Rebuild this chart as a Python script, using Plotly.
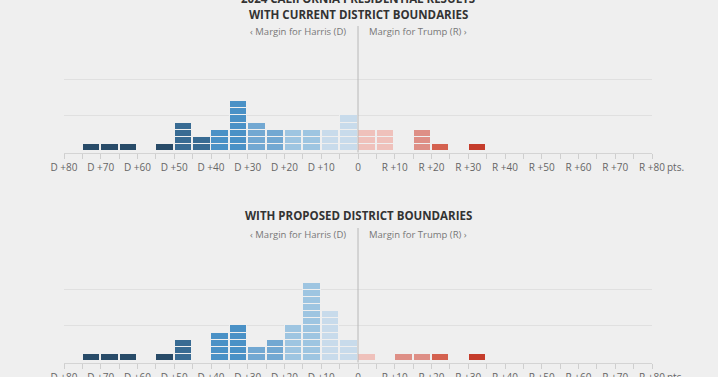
import plotly.graph_objects as go

# ---- data ----
bin_centers = [-77.5, -72.5, -67.5, -62.5, -57.5, -52.5, -47.5, -42.5, -37.5, -32.5,
               -27.5, -22.5, -17.5, -12.5, -7.5, -2.5, 2.5, 7.5, 12.5, 17.5,
               22.5, 27.5, 32.5, 37.5]
current_counts = [0, 1, 1, 1, 0, 1, 4, 2, 3, 7,
                  4, 3, 3, 3, 3, 5, 3, 3, 0, 3,
                  1, 0, 1, 0]
proposed_counts = [0, 1, 1, 1, 0, 1, 3, 0, 4, 5,
                   2, 3, 5, 11, 7, 3, 1, 0, 1, 1,
                   1, 0, 1, 0]
tick_vals = list(range(-80, 81, 5))
tick_labels = ["D +80", "", "D +70", "", "D +60", "", "D +50", "", "D +40", "", "D +30", "",
               "D +20", "", "D +10", "", "0", "", "R +10", "", "R +20", "", "R +30", "",
               "R +40", "", "R +50", "", "R +60", "", "R +70", "", "R +80"]
panel_titles = ["WITH CURRENT DISTRICT BOUNDARIES", "WITH PROPOSED DISTRICT BOUNDARIES"]
main_title = "2024 CALIFORNIA PRESIDENTIAL RESULTS"

BG = "#efefef"

def color_for(x):
    if x < -50: return "#284b68"
    if x < -40: return "#386b93"
    if x < -30: return "#4a91c6"
    if x < -20: return "#72a8d2"
    if x < -10: return "#9ec5e1"
    if x < 0:   return "#c8dbeb"
    if x < 10:  return "#efc1bb"
    if x < 20:  return "#de8f86"
    if x < 30:  return "#d4614f"
    return "#c53c2b"

fig = go.Figure()

for panel, counts in enumerate([current_counts, proposed_counts]):
    xa = "x" if panel == 0 else "x2"
    ya = "y" if panel == 0 else "y2"
    maxc = max(counts)
    for level in range(1, maxc + 1):
        xs = [c for c, n in zip(bin_centers, counts) if n >= level]
        fig.add_trace(go.Bar(
            x=xs, y=[1] * len(xs), width=4.75,
            marker=dict(color=[color_for(c) for c in xs], line=dict(color=BG, width=1.1)),
            xaxis=xa, yaxis=ya, showlegend=False, hoverinfo="skip"))

H = 377.0
def py(p):
    return 1 - p / H

xaxis_common = dict(range=[-80, 80], tickvals=tick_vals, ticktext=tick_labels,
                    showline=True, linecolor="#d4d4d4", linewidth=1,
                    ticks="outside", ticklen=5, tickcolor="#cfcfcf", tickwidth=1,
                    ticklabelstandoff=0, automargin=False,
                    showgrid=False, zeroline=False,
                    tickfont=dict(family="Open Sans", size=10, color="#666"),
                    fixedrange=True)
yaxis_common = dict(range=[-0.2, 15], tickvals=[5, 10, 15], showticklabels=False,
                    showgrid=True, gridcolor="#e0e0e0", gridwidth=1, automargin=False,
                    zeroline=False, showline=False, fixedrange=True)

fig.update_layout(
    width=718, height=377,
    margin=dict(l=64, r=66, t=0, b=0, autoexpand=False),
    paper_bgcolor=BG, plot_bgcolor=BG,
    barmode="stack", bargap=0,
    xaxis=dict(**xaxis_common, anchor="y"),
    xaxis2=dict(**xaxis_common, anchor="y2"),
    yaxis=dict(**yaxis_common, domain=[py(152.5), py(44)]),
    yaxis2=dict(**yaxis_common, domain=[py(362.5), py(254)]),
)

annos = []
shapes = []
# main title (cut off at top)
annos.append(dict(text="<b>" + main_title + "</b>", x=0, xref="x", y=py(-1.5), yref="paper",
                  xanchor="center", yanchor="middle", showarrow=False,
                  font=dict(family="Open Sans", size=11.5, color="#333")))
for panel, (title_y, sub_y, line_top, base) in enumerate([(14, 31, 26, 152.5), (215, 234, 228, 362.5)]):
    xr = "x" if panel == 0 else "x2"
    annos.append(dict(text="<b>" + panel_titles[panel] + "</b>", x=0, xref=xr, y=py(title_y), yref="paper",
                      xanchor="center", yanchor="middle", showarrow=False,
                      font=dict(family="Open Sans", size=11.5, color="#333")))
    annos.append(dict(text="‹ Margin for Harris (D)", x=0, xref=xr, xshift=-10, y=py(sub_y), yref="paper",
                      xanchor="right", yanchor="middle", showarrow=False,
                      font=dict(family="Open Sans", size=9.5, color="#777")))
    annos.append(dict(text="Margin for Trump (R) ›", x=0, xref=xr, xshift=9, y=py(sub_y), yref="paper",
                      xanchor="left", yanchor="middle", showarrow=False,
                      font=dict(family="Open Sans", size=9.5, color="#777")))
    annos.append(dict(text="pts.", x=80, xref=xr, xshift=13, y=py(base + 14.5), yref="paper",
                      xanchor="left", yanchor="middle", showarrow=False,
                      font=dict(family="Open Sans", size=10, color="#666")))
    shapes.append(dict(type="line", xref=xr, yref="paper", x0=0, x1=0,
                       y0=py(line_top), y1=py(base), line=dict(color="#b8b8b8", width=1)))

fig.update_layout(annotations=annos, shapes=shapes)
fig.write_html("out.html", config={"displayModeBar": False},
               post_script="document.body.style.margin='0';document.body.style.overflow='hidden';")
